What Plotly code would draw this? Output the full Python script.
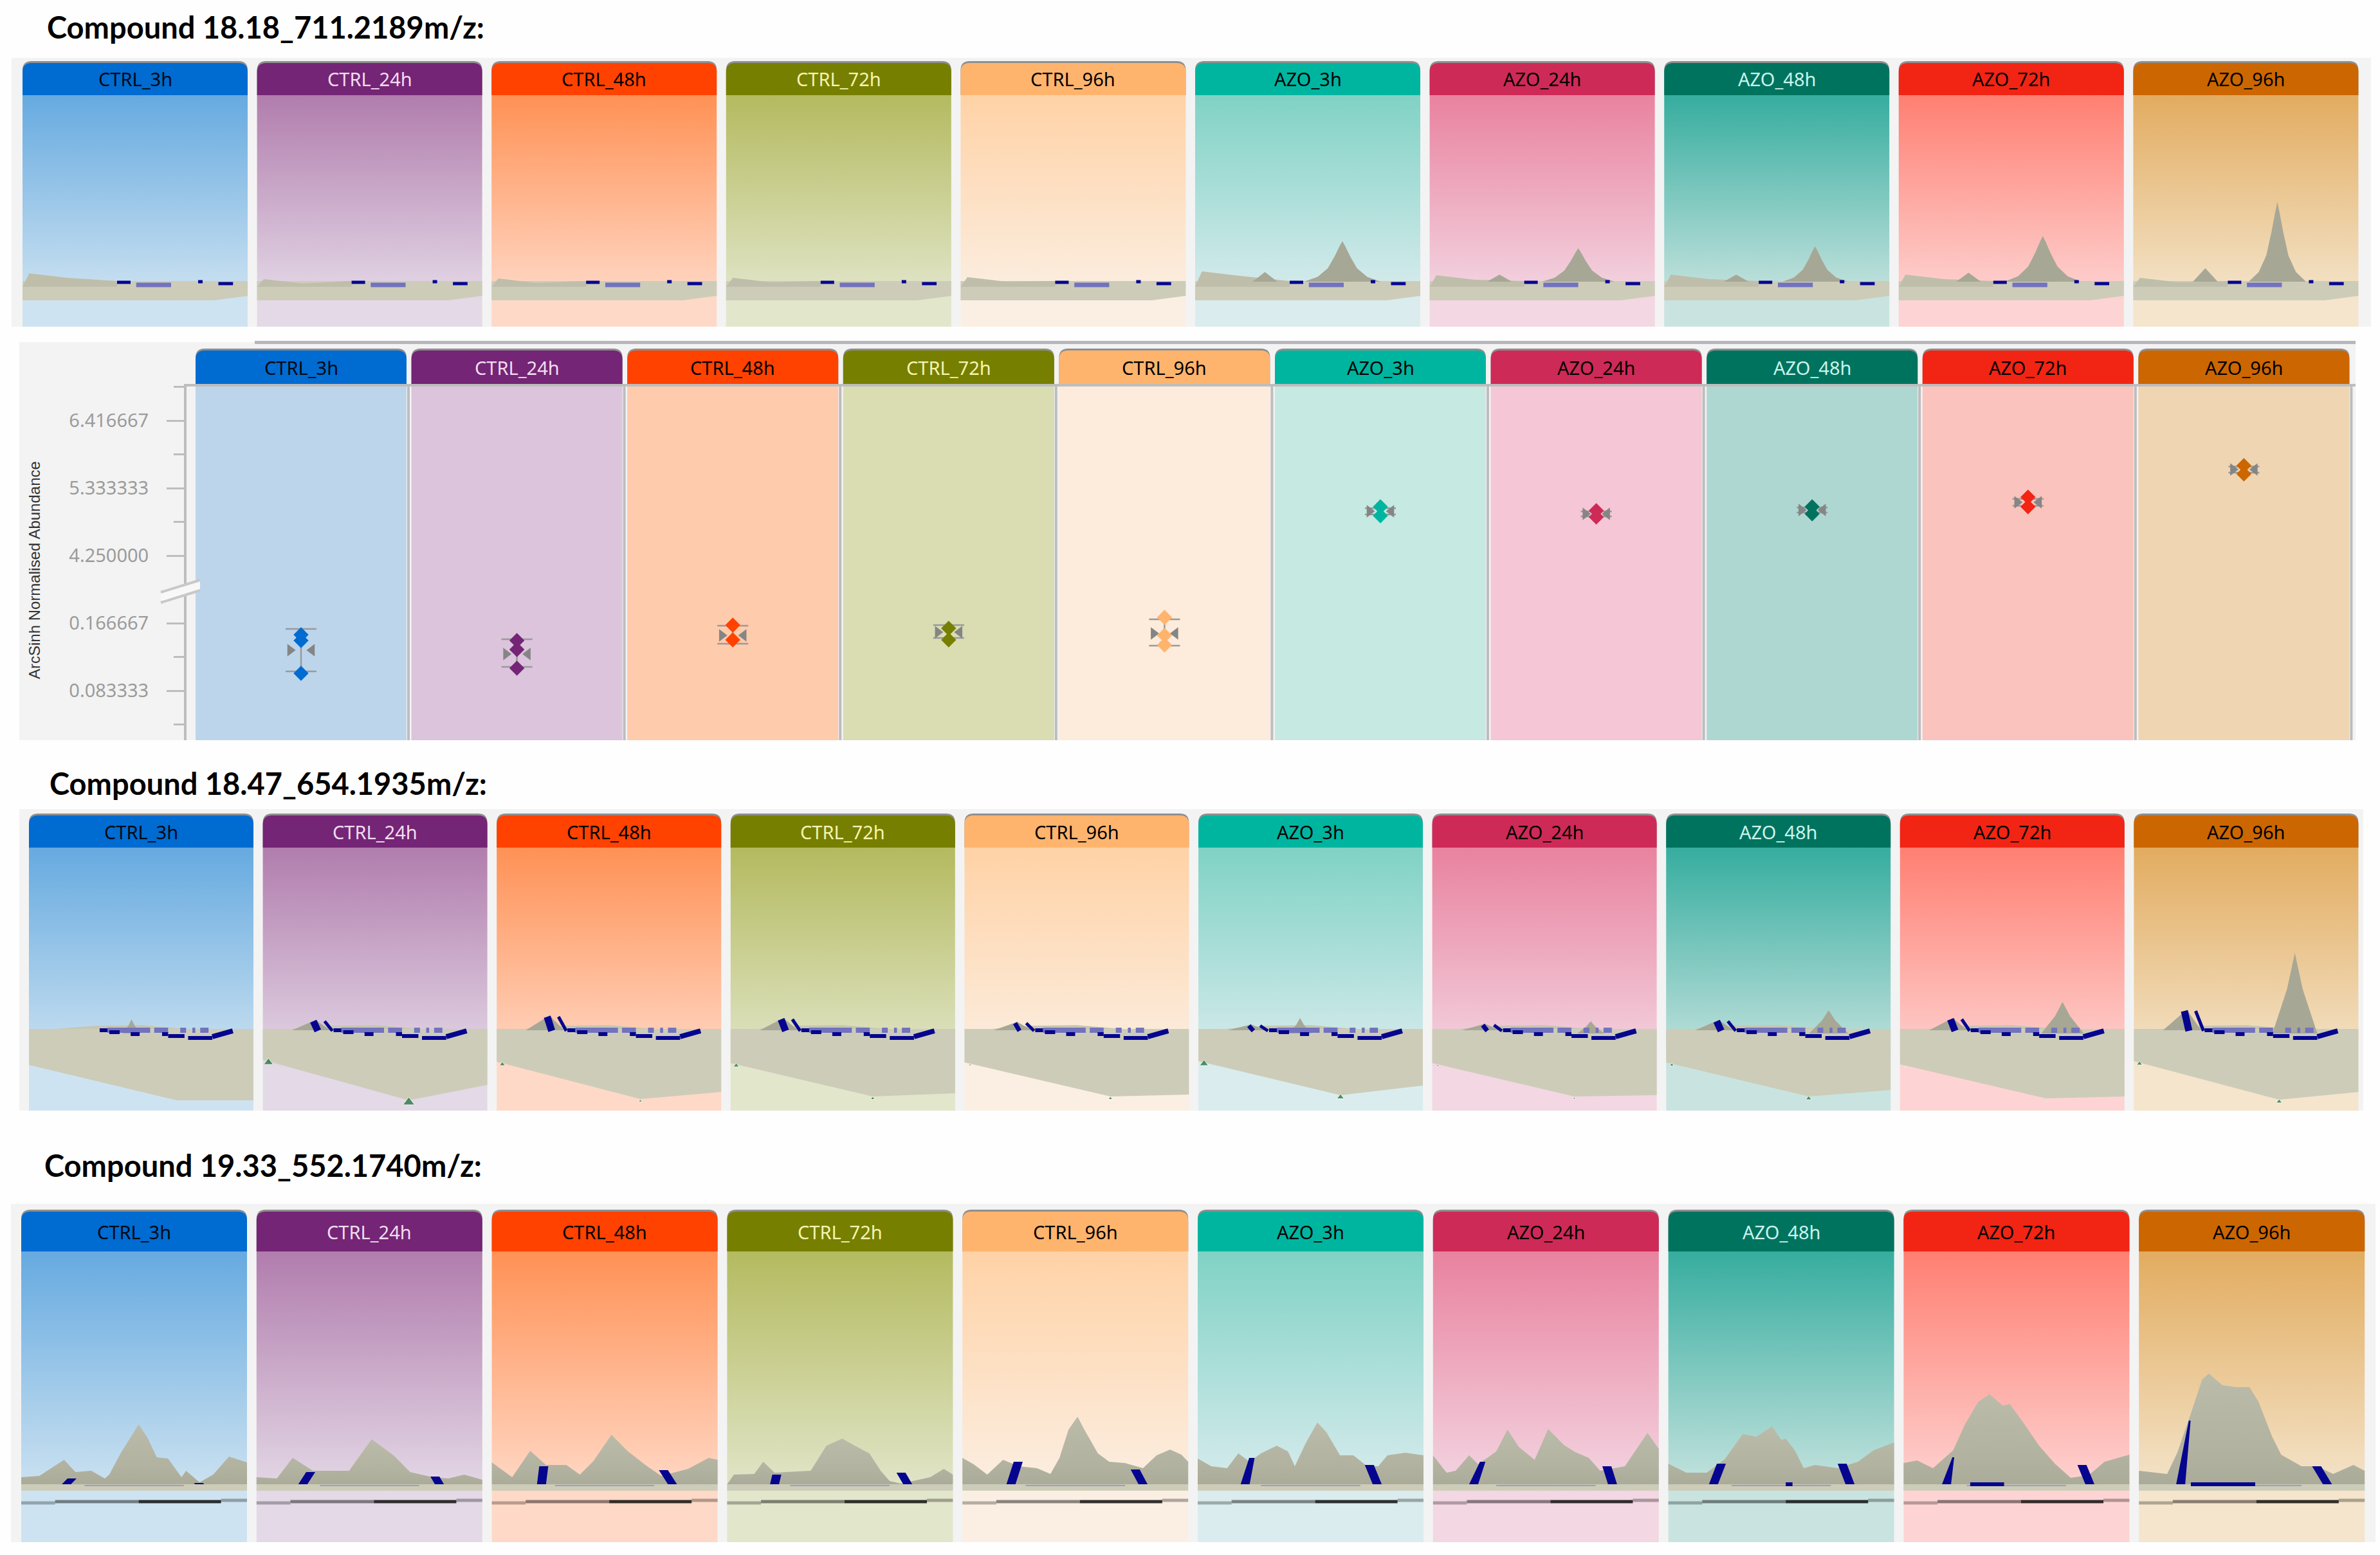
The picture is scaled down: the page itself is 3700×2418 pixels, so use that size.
import plotly.graph_objects as go

W, H = 3700, 2418

# ---------------- categories and colours ----------------
GROUPS = ["CTRL_3h", "CTRL_24h", "CTRL_48h", "CTRL_72h", "CTRL_96h",
          "AZO_3h", "AZO_24h", "AZO_48h", "AZO_72h", "AZO_96h"]
HEADER = ["#006BD0", "#742575", "#FF4200", "#777F00", "#FFB46E",
          "#00B5A0", "#CE2A57", "#00735F", "#F22414", "#CC6600"]
HEADER_TEXT = ["#000814", "#F3DDF0", "#000000", "#F5F5B0", "#000000",
               "#000000", "#000000", "#C9F5EC", "#000000", "#000000"]
SKY_TOP = ["#66AAE0", "#B17DAD", "#FF9155", "#B4BA5F", "#FFD2A6",
           "#80D2C5", "#E9829F", "#36AD9F", "#FF7F72", "#E2AC60"]
SKY_BOTTOM = ["#CEE3F1", "#E4D9E7", "#FFD9C7", "#E2E6CB", "#FBEFE3",
              "#DAECEE", "#F3D7E3", "#C9E4E0", "#FDD4D3", "#F4E5CC"]
PANEL_FILL = ["#BCD5EB", "#DBC4DC", "#FFCBAD", "#DADDB2", "#FDEBDC",
              "#C6E9E2", "#F5C6D5", "#AFD7D2", "#FAC3BD", "#F0D5B2"]
TITLES = ["Compound 18.18_711.2189m/z:", "Compound 18.47_654.1935m/z:", "Compound 19.33_552.1740m/z:"]

# ---------------- abundance chart values ----------------
POINTS = [[0.1524, 0.1452, 0.1048], [0.1452, 0.1341, 0.1111], [0.1643, 0.1460], [0.1603, 0.1460],
          [0.1738, 0.1516, 0.1397], [5.034, 4.890], [4.972, 4.869], [5.034, 4.921], [5.189, 5.034], [5.694, 5.560]]
MEANS = [0.1333, 0.1286, 0.1516, 0.1556, 0.1540, 4.962, 4.921, 4.983, 5.106, 5.632]
ERR_HI = [0.1595, 0.1468, 0.1635, 0.1643, 0.1714, 5.01, 4.96, 5.02, 5.16, 5.68]
ERR_LO = [0.1071, 0.1127, 0.1413, 0.1484, 0.1389, 4.91, 4.88, 4.94, 5.05, 5.58]
UPPER_TICKS = [4.25, 5.333333, 6.416667]
UPPER_TICK_TEXT = ["4.250000", "5.333333", "6.416667"]
UPPER_MINOR = [4.791667, 5.875, 6.958333]
LOWER_TICKS = [0.083333, 0.166667]
LOWER_TICK_TEXT = ["0.083333", "0.166667"]
LOWER_MINOR = [0.041667, 0.125]

# ---------------- first terrain row ----------------
R1_LEFT_HILL = [83, 74, 75, 76, 77, 86, 80, 81, 81, 76]
R1_PEAK_X = [0, 0, 0, 0, 0, 0.654, 0.66, 0.67, 0.64, 0.64]
R1_PEAK_H = [0, 0, 0, 0, 0, 133, 122, 125, 141, 194]
R1_PEAK_WIDTH = [1, 1, 1, 1, 1, 1.0, 0.95, 0.85, 1.0, 0.75]
R1_BUMP_X = [0, 0, 0, 0, 0, 0.31, 0.31, 0.32, 0.31, 0.32]
R1_BUMP_H = [0, 0, 0, 0, 0, 85, 81, 81, 84, 91]
PEAK_OFFSET = [-0.17, -0.11, -0.065, -0.035, -0.012, 0, 0.012, 0.035, 0.065, 0.11, 0.17]
PEAK_SHAPE = [0, 0.12, 0.33, 0.62, 0.88, 1, 0.88, 0.62, 0.33, 0.12, 0]
R1_DARK_DASH = [(0.42, 0.48, 69), (0.87, 0.935, 67), (0.78, 0.80, 70)]
R1_LIGHT_DASH = [(0.505, 0.66, 65)]

# ---------------- second terrain row ----------------
R2_LAND_LEFT = [71, 79, 76, 74, 75, 77, 74, 75, 72, 77]
R2_VERTEX_X = [0.66, 0.65, 0.64, 0.633, 0.65, 0.633, 0.633, 0.635, 0.65, 0.647]
R2_VERTEX_H = [16, 16, 18, 22, 22, 24, 22, 22, 19, 17]
R2_LAND_RIGHT = [16, 40, 29, 27, 25, 39, 24, 32, 22, 29]
R2_PEAK_X = [0.457, 0, 0, 0, 0, 0.453, 0.706, 0.724, 0.724, 0.717]
R2_PEAK_H = [142, 0, 0, 0, 0, 144, 139, 156, 169, 245]
R2_PEAK_WIDTH = [0.04, 0, 0, 0, 0, 0.05, 0.06, 0.087, 0.095, 0.1]
R2_SAIL_TOP = [0, 139, 146, 142, 136, 132, 133, 139, 142, 155]
R2_GREEN_VERTEX = [0, 16, 5, 6, 6, 10, 4, 8, 3, 8]
R2_GREEN_LEFT = [0, 13, 8, 8, 4, 12, 4, 6, 2, 8]
R2_LIGHT_DASH = [(0.35, 0.54, 125), (0.558, 0.62, 125), (0.674, 0.70, 125), (0.728, 0.741, 125), (0.763, 0.80, 125)]
R2_DARK_DASH = [(0.315, 0.35, 125), (0.358, 0.404, 122), (0.453, 0.493, 119), (0.593, 0.62, 119),
                (0.62, 0.693, 116), (0.709, 0.817, 113)]
R2_CURVE_X = [0.817, 0.908]
R2_CURVE_H = [115, 124]

# ---------------- third terrain row ----------------
R3_X = [
    [0, .08, .19, .24, .31, .37, .39, .44, .52, .56, .60, .65, .71, .73, .79, .85, .92, 1],
    [0, .09, .16, .25, .41, .51, .61, .68, .78, .85, .92, 1],
    [0, .09, .17, .24, .33, .39, .45, .53, .60, .68, .75, .87, .96, 1],
    [0, .03, .12, .16, .21, .37, .44, .51, .56, .63, .68, .72, .77, .90, .96, 1],
    [0, .05, .11, .18, .25, .33, .39, .43, .47, .51, .54, .60, .65, .72, .80, .86, .92, .97, 1],
    [0, .06, .13, .18, .23, .28, .35, .40, .43, .48, .53, .57, .63, .69, .75, .80, .84, .92, 1],
    [0, .06, .10, .16, .20, .28, .33, .38, .45, .51, .58, .63, .69, .74, .85, .95, 1],
    [0, .08, .17, .25, .33, .39, .46, .50, .52, .56, .60, .65, .75, .84, .91, 1],
    [0, .06, .13, .22, .27, .33, .38, .44, .47, .53, .60, .67, .74, .82, .89, 1],
    [0, .125, .17, .23, .28, .31, .37, .43, .49, .53, .59, .63, .72, .79, .86, .95, 1],
]
R3_H = [
    [101, 103, 128, 109, 111, 99, 105, 138, 183, 162, 132, 130, 101, 111, 93, 105, 133, 124],
    [101, 99, 131, 111, 111, 160, 134, 109, 101, 99, 105, 97],
    [124, 101, 142, 120, 120, 105, 126, 167, 142, 120, 103, 114, 131, 128],
    [90, 105, 106, 125, 108, 111, 150, 161, 151, 138, 111, 95, 91, 101, 114, 105],
    [131, 121, 105, 128, 118, 115, 106, 131, 175, 195, 175, 138, 125, 123, 115, 135, 144, 136, 125],
    [130, 118, 115, 138, 125, 138, 150, 141, 118, 155, 186, 171, 135, 135, 118, 118, 135, 139, 135],
    [135, 108, 111, 135, 121, 141, 175, 148, 128, 176, 151, 140, 131, 111, 118, 170, 145],
    [122, 108, 108, 129, 168, 164, 180, 159, 161, 143, 115, 120, 115, 125, 143, 155],
    [123, 127, 115, 143, 182, 218, 230, 212, 215, 186, 150, 122, 100, 104, 125, 136],
    [111, 106, 139, 200, 253, 262, 244, 241, 241, 218, 164, 136, 118, 118, 106, 120, 111],
]
R3_LEFT_TOP_X = [.225, .24, .23, .22, .247, .24, .22, .235, .22, .225]
R3_LEFT_BASE_X = [.20, .205, .22, .21, .215, .21, .18, .20, .19, .185]
R3_LEFT_TOP_H = [99, 109, 118, 105, 125, 131, 125, 122, 132, 189]
R3_LEFT_TOP_W = [.02, .02, .02, .02, .02, .012, .012, .02, .004, .004]
R3_RIGHT_TOP_X = [.785, .79, .76, .77, .765, .76, .77, .77, .79, .787]
R3_RIGHT_BASE_X = [.79, .81, .80, .80, .80, .795, .795, .805, .825, .835]
R3_RIGHT_TOP_H = [92, 102, 112, 108, 113, 120, 118, 122, 120, 118]
R3_BASE_DASH_A = [0, 0, 0, 0, 0, 0, 0, .52, .295, .23]
R3_BASE_DASH_B = [0, 0, 0, 0, 0, 0, 0, .55, .445, .515]
R3_TRACK_X0 = [0, .15, .52, .885]
R3_TRACK_X1 = [.15, .52, .885, 1]
R3_TRACK_H = [61, 63, 63, 65]
R3_TRACK_COLOR = ["rgba(0,0,0,.28)", "rgba(0,0,0,.45)", "rgba(0,0,0,.8)", "rgba(0,0,0,.3)"]

# ---------------- layout of the composite, in page pixels ----------------
ROWS = [
    dict(x0=35, pitch=364.6, pw=350, hdr=(98, 148), bottom=508, flat=.89, bg=(18, 90, 3686, 508), title=(71, 42)),
    dict(x0=45, pitch=363.6, pw=349, hdr=(1268, 1318), bottom=1727, flat=.84, bg=(30, 1258, 3674, 1727), title=(75, 1218)),
    dict(x0=33, pitch=365.8, pw=351, hdr=(1884, 1946), bottom=2398, flat=.83, bg=(17, 1872, 3693, 2398), title=(67, 1812)),
]
MID = dict(x0=304, pitch=335.6, pw=328, hdr=(545, 597), bottom=1151, brk=916, bg=(30, 532, 3662, 1151))
UP_RANGE = [3.7135, 7.0048]
LO_RANGE = [0.02222, 0.20873]


def fx(x):
    return x / W


def fy(y):
    return 1 - y / H


def rect(x0, y0, x1, y1, color, layer="below"):
    return dict(type="rect", xref="paper", yref="paper", x0=fx(x0), x1=fx(x1), y0=fy(y1), y1=fy(y0),
                fillcolor=color, line_width=0, layer=layer)


def tab(x0, y0, x1, y1, color, r=14):
    p = (f"M {fx(x0)},{fy(y1)} L {fx(x0)},{fy(y0 + r)} Q {fx(x0)},{fy(y0)} {fx(x0 + r)},{fy(y0)} "
         f"L {fx(x1 - r)},{fy(y0)} Q {fx(x1)},{fy(y0)} {fx(x1)},{fy(y0 + r)} L {fx(x1)},{fy(y1)} Z")
    return dict(type="path", xref="paper", yref="paper", path=p, fillcolor=color, line_width=0, layer="above")


def label(text, x, y, color):
    return dict(text=text, x=fx(x), y=fy(y), xref="paper", yref="paper", xanchor="center", yanchor="middle",
                showarrow=False, font=dict(family="Noto Sans", size=29, color=color))


fig = go.Figure()
shapes, notes = [], []


def poly(ax, xs, ys, color=None, gradient=None):
    kw = dict(fillgradient=gradient) if gradient else dict(fillcolor=color)
    fig.add_trace(go.Scatter(x=xs, y=ys, xaxis=f"x{ax}", yaxis=f"y{ax}", mode="lines", line=dict(width=0),
                             fill="toself", hoverinfo="skip", showlegend=False, **kw))


def segs(ax, xs, ys, color, width):
    fig.add_trace(go.Scatter(x=xs, y=ys, xaxis=f"x{ax}", yaxis=f"y{ax}", mode="lines",
                             line=dict(color=color, width=width), hoverinfo="skip", showlegend=False))


LAND = "#CDCCB9"
HILL = "#BEBEAB"
PEAK = "#A7A795"
NAVY = "#05058F"
LILAC = "#7272BE"
ax_layout = {}

for r, row in enumerate(ROWS):
    ax = r + 1
    sfx = "" if ax == 1 else str(ax)
    panel_h = row["bottom"] - row["hdr"][1]
    wf = row["pw"] / row["pitch"]
    ax_layout[f"xaxis{sfx}"] = dict(domain=[fx(row["x0"]), fx(row["x0"] + 10 * row["pitch"])], range=[0, 10],
                                    visible=False, anchor=f"y{sfx}", fixedrange=True)
    ax_layout[f"yaxis{sfx}"] = dict(domain=[fy(row["bottom"]), fy(row["hdr"][1])], range=[0, panel_h],
                                    visible=False, anchor=f"x{sfx}", fixedrange=True)
    b = row["bg"]
    shapes.append(rect(*b, "#F3F3F3"))
    notes.append(dict(text=f"<b>{TITLES[r]}</b>", x=fx(row["title"][0]), y=fy(row["title"][1]), xref="paper",
                      yref="paper", xanchor="left", yanchor="middle", showarrow=False,
                      font=dict(family="Lato", size=47, color="#000000")))
    for i, g in enumerate(GROUPS):
        px0 = row["x0"] + i * row["pitch"]
        X = lambda f: i + f * wf
        # sky
        poly(ax, [X(0), X(1), X(1), X(0), X(0)], [0, 0, panel_h, panel_h, 0],
             gradient=dict(type="vertical", colorscale=[[0, SKY_BOTTOM[i]], [1 - row["flat"], SKY_BOTTOM[i]], [1, SKY_TOP[i]]]))
        # header tab
        shapes.append(tab(px0, row["hdr"][0] - 3, px0 + row["pw"], row["hdr"][1], "rgba(110,110,110,.75)"))
        shapes.append(tab(px0, row["hdr"][0], px0 + row["pw"], row["hdr"][1], HEADER[i]))
        notes.append(label(g, px0 + row["pw"] / 2, sum(row["hdr"]) / 2, HEADER_TEXT[i]))

        if r == 0:
            poly(ax, [X(0), X(.85), X(1), X(1), X(0)], [41, 41, 48, 71, 71], LAND)
            lh = R1_LEFT_HILL[i]
            poly(ax, [X(0), X(.03), X(.2), X(.42), X(.42), X(0)], [62, lh, lh - 7, 71, 62, 62], HILL)
            if R1_PEAK_H[i]:
                bx, bh = R1_BUMP_X[i], R1_BUMP_H[i]
                poly(ax, [X(bx - .055), X(bx), X(bx + .055)], [70, bh, 70], PEAK)
                px, ph, pwd = R1_PEAK_X[i], R1_PEAK_H[i], R1_PEAK_WIDTH[i]
                poly(ax, [X(px + o * pwd) for o in PEAK_OFFSET], [70 + (ph - 70) * s for s in PEAK_SHAPE], PEAK)
            xs, ys = [], []
            for a, c, h in R1_LIGHT_DASH:
                xs += [X(a), X(c), None]
                ys += [h, h, None]
            segs(ax, xs, ys, LILAC, 7)
            xs, ys = [], []
            for a, c, h in R1_DARK_DASH:
                xs += [X(a), X(c), None]
                ys += [h, h, None]
            segs(ax, xs, ys, NAVY, 5)

        if r == 1:
            vx = R2_VERTEX_X[i]
            poly(ax, [X(0), X(vx), X(1), X(1), X(0)],
                 [R2_LAND_LEFT[i], R2_VERTEX_H[i], R2_LAND_RIGHT[i], 127, 127], LAND)
            poly(ax, [X(.12), X(.3), X(.5), X(.7)], [127, 132, 133, 127], "#C6C6B2")
            if R2_SAIL_TOP[i]:
                st = R2_SAIL_TOP[i]
                poly(ax, [X(.13), X(.235), X(.3)], [125, st + 2, 125], PEAK)
                segs(ax, [X(.225), X(.245)], [st, 124], NAVY, 11 if st > 137 else 7)
                segs(ax, [X(.275), X(.31)], [st, 124], NAVY, 5)
            if R2_PEAK_H[i]:
                c, ph, hw = R2_PEAK_X[i], R2_PEAK_H[i], R2_PEAK_WIDTH[i]
                poly(ax, [X(c - hw), X(c - hw * .35), X(c), X(c + hw * .35), X(c + hw)],
                     [120, 120 + (ph - 120) * .55, ph, 120 + (ph - 120) * .55, 120], PEAK)
            xs, ys = [], []
            for a, c, h in R2_LIGHT_DASH:
                xs += [X(a), X(c), None]
                ys += [h, h, None]
            segs(ax, xs, ys, LILAC, 8)
            xs, ys = [], []
            for a, c, h in R2_DARK_DASH:
                xs += [X(a), X(c), None]
                ys += [h, h, None]
            segs(ax, xs, ys, NAVY, 6)
            segs(ax, [X(R2_CURVE_X[0]), X(R2_CURVE_X[1])], R2_CURVE_H, NAVY, 8)
            gx, gy, gs = [], [], []
            if R2_GREEN_LEFT[i]:
                gx.append(X(.025))
                gy.append(R2_LAND_LEFT[i] - 4)
                gs.append(R2_GREEN_LEFT[i])
            if R2_GREEN_VERTEX[i]:
                gx.append(X(vx))
                gy.append(R2_VERTEX_H[i] - 3)
                gs.append(R2_GREEN_VERTEX[i])
            if gx:
                fig.add_trace(go.Scatter(x=gx, y=gy, xaxis=f"x{ax}", yaxis=f"y{ax}", mode="markers",
                                         marker=dict(symbol="triangle-up", size=gs, color="#0E6A2E"),
                                         hoverinfo="skip", showlegend=False))

        if r == 2:
            poly(ax, [X(0), X(1), X(1), X(0)], [80, 80, 90, 90], LAND)
            xs = [X(f) for f in R3_X[i]]
            hs = R3_H[i]
            poly(ax, [X(0)] + xs + [X(1)], [90] + hs + [90],
                 gradient=dict(type="vertical", colorscale=[[0, "#ABAB99"], [0.3, "#B2B2A0"], [1, "#BBBBA9"]]))
            for tx, bx, th, tw in [(R3_LEFT_TOP_X[i], R3_LEFT_BASE_X[i], R3_LEFT_TOP_H[i], R3_LEFT_TOP_W[i]),
                                   (R3_RIGHT_TOP_X[i], R3_RIGHT_BASE_X[i], R3_RIGHT_TOP_H[i], .02)]:
                poly(ax, [X(bx - .02), X(bx + .02), X(tx + tw), X(tx - tw)], [90, 90, th, th], NAVY)
            segs(ax, [X(.28), X(.72)], [88, 88], "rgba(120,120,190,.55)", 2)
            if R3_BASE_DASH_B[i]:
                segs(ax, [X(R3_BASE_DASH_A[i]), X(R3_BASE_DASH_B[i])], [90, 90], NAVY, 6)
            for a, c, h, col in zip(R3_TRACK_X0, R3_TRACK_X1, R3_TRACK_H, R3_TRACK_COLOR):
                segs(ax, [X(a), X(c)], [h, h], col, 5)

# ---------------- abundance chart with the broken axis ----------------
m = MID
wf = m["pw"] / m["pitch"]
shapes.append(rect(*m["bg"], "#F3F3F3"))
shapes.append(rect(396, 530, 3662, 535, "#B6B6BC"))
ax_layout["xaxis4"] = dict(domain=[fx(m["x0"]), fx(m["x0"] + 10 * m["pitch"])], range=[0, 10], visible=False,
                           anchor="y4", fixedrange=True)
axis_common = dict(anchor="free", position=fx(288), showline=True, linewidth=4, linecolor="#BDBDBD",
                   ticks="outside", ticklen=27, tickwidth=3, tickcolor="#BDBDBD", showgrid=False, zeroline=False,
                   tickfont=dict(family="Noto Sans", size=29, color="#9B9B9B"), ticklabelstandoff=22, fixedrange=True)
ax_layout["yaxis4"] = dict(domain=[fy(m["brk"]), fy(m["hdr"][1])], range=UP_RANGE, tickvals=UPPER_TICKS,
                           ticktext=UPPER_TICK_TEXT,
                           minor=dict(tickvals=UPPER_MINOR, ticks="outside", ticklen=16, tickwidth=3, tickcolor="#BDBDBD"),
                           **axis_common)
ax_layout["yaxis5"] = dict(domain=[fy(m["bottom"]), fy(m["brk"])], range=LO_RANGE, tickvals=LOWER_TICKS,
                           ticktext=LOWER_TICK_TEXT,
                           minor=dict(tickvals=LOWER_MINOR, ticks="outside", ticklen=16, tickwidth=3, tickcolor="#BDBDBD"),
                           **axis_common)
for i, g in enumerate(GROUPS):
    px0 = m["x0"] + i * m["pitch"]
    shapes.append(rect(px0, m["hdr"][1], px0 + m["pw"], m["bottom"], PANEL_FILL[i]))
    shapes.append(rect(px0 + m["pw"] + 1, m["hdr"][1], px0 + m["pw"] + 5, m["bottom"], "#BDBDBD"))
    shapes.append(tab(px0, m["hdr"][0] - 3, px0 + m["pw"], m["hdr"][1], "rgba(110,110,110,.75)"))
    shapes.append(tab(px0, m["hdr"][0], px0 + m["pw"], m["hdr"][1], HEADER[i]))
    notes.append(label(g, px0 + m["pw"] / 2, sum(m["hdr"]) / 2, HEADER_TEXT[i]))
    c = i + wf / 2
    yax = "y4" if i >= 5 else "y5"
    mean = MEANS[i]
    fig.add_trace(go.Scatter(x=[c], y=[mean], xaxis="x4", yaxis=yax, mode="markers", marker=dict(size=1, color="#8C8C8C"),
                             error_y=dict(type="data", symmetric=False, array=[ERR_HI[i] - mean],
                                          arrayminus=[mean - ERR_LO[i]], color="#9A9A9A", thickness=2.5, width=24),
                             hoverinfo="skip", showlegend=False))
    for sym, off in [("triangle-right", -17), ("triangle-left", 17)]:
        fig.add_trace(go.Scatter(x=[c + off / m["pitch"]], y=[mean], xaxis="x4", yaxis=yax, mode="markers",
                                 marker=dict(symbol=sym, size=17, color="#858585"), hoverinfo="skip", showlegend=False))
    fig.add_trace(go.Scatter(x=[c] * len(POINTS[i]), y=POINTS[i], xaxis="x4", yaxis=yax, mode="markers",
                             marker=dict(symbol="diamond", size=18, color=HEADER[i]), hoverinfo="skip", showlegend=False))

shapes.append(rect(288, m["hdr"][1], 3662, m["hdr"][1] + 4, "#BDBDBD"))
shapes.append(dict(type="path", xref="paper", yref="paper", layer="above", line_width=0, fillcolor="#F8F8F8",
                   path=f"M {fx(250)},{fy(921)} L {fx(311)},{fy(902)} L {fx(311)},{fy(918)} L {fx(250)},{fy(937)} Z"))
for dy in (0, 16):
    shapes.append(dict(type="line", xref="paper", yref="paper", x0=fx(250), x1=fx(311), y0=fy(921 + dy), y1=fy(902 + dy),
                       line=dict(color="#C8C8C8", width=4), layer="above"))
notes.append(dict(text="ArcSinh Normalised Abundance", x=fx(54), y=fy(887), xref="paper", yref="paper", textangle=-90,
                  xanchor="center", yanchor="middle", showarrow=False,
                  font=dict(family="Liberation Sans", size=24, color="#333333")))

fig.update_layout(width=W, height=H, margin=dict(l=0, r=0, t=0, b=0), paper_bgcolor="#FEFEFE", plot_bgcolor="rgba(0,0,0,0)",
                  showlegend=False, shapes=shapes, annotations=notes, **ax_layout)
fig.write_html("out.html", post_script="document.body.style.margin='0';", config={"displayModeBar": False})
